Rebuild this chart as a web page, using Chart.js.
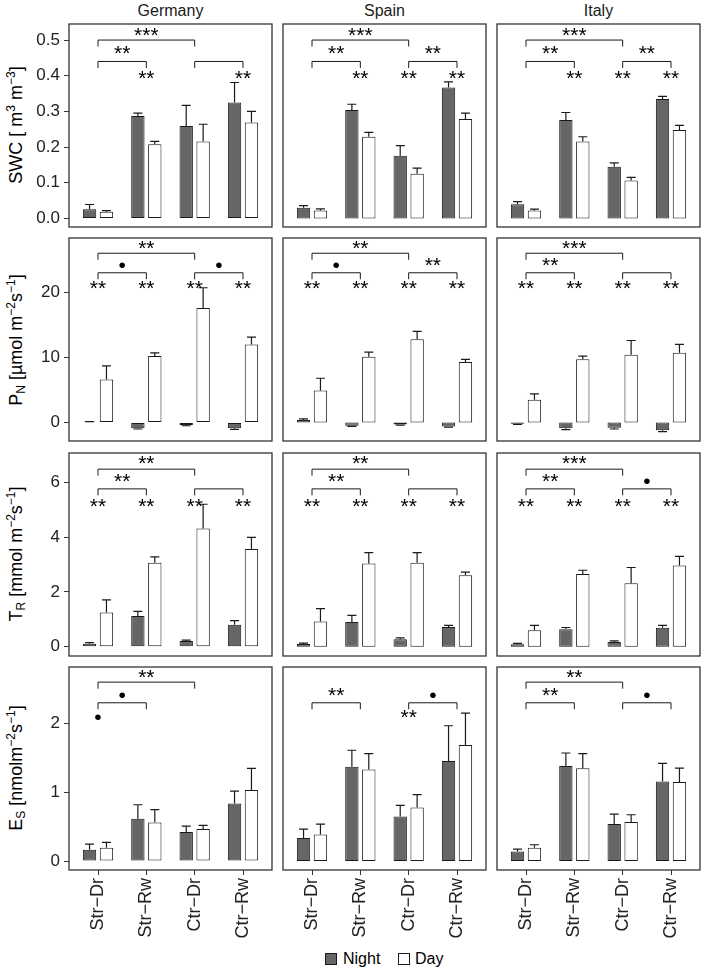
<!DOCTYPE html>
<html>
<head>
<meta charset="utf-8">
<script src="https://cdn.jsdelivr.net/npm/chart.js@4.4.0/dist/chart.umd.min.js"></script>
<style>
  body { margin: 0; background: #fff; font-family: "Liberation Sans", Arial, sans-serif; }
  #wrap { position: relative; width: 704px; height: 970px; overflow: hidden; }
  canvas { position: absolute; }
  .strip { position: absolute; top: 0; width: 203px; height: 21px; line-height: 21px; text-align: center; font-size: 16px; color: #1a1a1a; }
  .ytitle { position: absolute; left: 16px; white-space: nowrap; font-size: 18px; color: #000; transform: translate(-50%, -50%) rotate(-90deg); }
  .ytitle sup { font-size: 12px; vertical-align: 7px; line-height: 0; }
  .ytitle sub { font-size: 12px; vertical-align: -3px; line-height: 0; }
  .key { position: absolute; top: 953px; width: 12px; height: 12px; box-sizing: border-box; border: 1px solid #1a1a1a; }
  .ktext { position: absolute; top: 949px; font-size: 16px; line-height: 19px; color: #000; }
</style>
</head>
<body>
<div id="wrap">
  <div class="strip" style="left:69px">Germany</div>
  <div class="strip" style="left:283px">Spain</div>
  <div class="strip" style="left:497px">Italy</div>

  <div class="ytitle" style="top:125px">SWC [ m<sup>3</sup> m<sup>−3</sup>]</div>
  <div class="ytitle" style="top:340px">P<sub>N</sub> [µmol m<sup>−2</sup>s<sup>−1</sup>]</div>
  <div class="ytitle" style="top:554px">T<sub>R</sub> [mmol m<sup>−2</sup>s<sup>−1</sup>]</div>
  <div class="ytitle" style="top:768px">E<sub>S</sub> [nmolm<sup>−2</sup>s<sup>−1</sup>]</div>

  <div class="key" style="left:325px;background:#666"></div>
  <div class="ktext" style="left:343px">Night</div>
  <div class="key" style="left:398px;background:#fff"></div>
  <div class="ktext" style="left:415px">Day</div>
</div>

<script>
const categories = ['Str−Dr', 'Str−Rw', 'Ctr−Dr', 'Ctr−Rw'];
const countries = ['Germany', 'Spain', 'Italy'];

// one inner array per country (Germany, Spain, Italy), values per category
const swcNight   = [[0.026, 0.287, 0.259, 0.325], [0.030, 0.304, 0.176, 0.367], [0.040, 0.276, 0.145, 0.335]];
const swcNightSE = [[0.013, 0.008, 0.058, 0.056], [0.006, 0.016, 0.028, 0.016], [0.007, 0.021, 0.011, 0.007]];
const swcDay     = [[0.019, 0.208, 0.216, 0.269], [0.022, 0.229, 0.125, 0.279], [0.022, 0.216, 0.106, 0.248]];
const swcDaySE   = [[0.003, 0.008, 0.048, 0.031], [0.005, 0.012, 0.016, 0.016], [0.004, 0.013, 0.009, 0.013]];

const pnNight   = [[0.1, -0.9, -0.4, -0.9], [0.4, -0.5, -0.3, -0.6], [-0.2, -0.9, -0.8, -1.2]];
const pnNightSE = [[0.05, 0.1, 0.1, 0.15], [0.15, 0.1, 0.1, 0.1], [0.1, 0.2, 0.2, 0.2]];
const pnDay     = [[6.6, 10.2, 17.6, 12.0], [4.9, 10.1, 12.8, 9.3], [3.5, 9.7, 10.4, 10.7]];
const pnDaySE   = [[2.1, 0.5, 3.1, 1.1], [1.9, 0.7, 1.2, 0.4], [0.9, 0.5, 2.2, 1.3]];

const trNight   = [[0.11, 1.12, 0.21, 0.80], [0.10, 0.90, 0.27, 0.72], [0.09, 0.64, 0.17, 0.69]];
const trNightSE = [[0.04, 0.17, 0.03, 0.15], [0.03, 0.24, 0.05, 0.06], [0.03, 0.06, 0.04, 0.09]];
const trDay     = [[1.25, 3.06, 4.31, 3.57], [0.92, 3.04, 3.06, 2.61], [0.60, 2.65, 2.32, 2.96]];
const trDaySE   = [[0.46, 0.22, 0.89, 0.42], [0.47, 0.39, 0.37, 0.11], [0.18, 0.14, 0.57, 0.34]];

const esNight   = [[0.165, 0.615, 0.421, 0.838], [0.334, 1.37, 0.649, 1.453], [0.14, 1.38, 0.538, 1.157]];
const esNightSE = [[0.082, 0.203, 0.087, 0.179], [0.131, 0.24, 0.16, 0.513], [0.034, 0.19, 0.145, 0.262]];
const esDay     = [[0.194, 0.562, 0.465, 1.031], [0.387, 1.33, 0.780, 1.685], [0.194, 1.35, 0.567, 1.148]];
const esDaySE   = [[0.077, 0.184, 0.053, 0.315], [0.151, 0.23, 0.184, 0.465], [0.043, 0.21, 0.106, 0.203]];

// tick labels
const swcTicks = [0, 0.1, 0.2, 0.3, 0.4, 0.5];
const pnTicks = [0, 10, 20];
const trTicks = [0, 2, 4, 6];
const esTicks = [0, 1, 2];

// significance: top = Str-Dr vs Ctr-Dr, left = Str-Dr vs Str-Rw, right = Ctr-Dr vs Ctr-Rw
// null = no bracket, '' = bracket without label
const swcSigTop = ['***', '***', '***'];
const swcSigLeft = ['**', '**', '**'];
const swcSigRight = ['', '**', '**'];
const swcStars = [['', '**', '', '**'], ['', '**', '**', '**'], ['', '**', '**', '**']];

const pnSigTop = ['**', '**', '***'];
const pnSigLeft = ['•', '•', '**'];
const pnSigRight = ['•', '**', ''];
const pnStars = [['**', '**', '**', '**'], ['**', '**', '**', '**'], ['**', '**', '**', '**']];

const trSigTop = ['**', '**', '***'];
const trSigLeft = ['**', '**', '**'];
const trSigRight = ['', '', '•'];
const trStars = [['**', '**', '**', '**'], ['**', '**', '**', '**'], ['**', '**', '**', '**']];

const esSigTop = ['**', null, '**'];
const esSigLeft = ['•', '**', '**'];
const esSigRight = [null, '•', '•'];
const esStars = [['•', '', '', ''], ['', '', '**', ''], ['', '', '', '']];

const rows = [
    { night: swcNight, nightSE: swcNightSE, day: swcDay, daySE: swcDaySE, ticks: swcTicks, min: -0.024, max: 0.545, digits: 1,
      sigTop: swcSigTop, sigLeft: swcSigLeft, sigRight: swcSigRight, stars: swcStars,
      levels: { top: 0.5, topLabel: 0.510, mid: 0.44, midLabel: 0.459, stars: 0.389 } },
    { night: pnNight, nightSE: pnNightSE, day: pnDay, daySE: pnDaySE, ticks: pnTicks, min: -2.84, max: 28.34, digits: 0,
      sigTop: pnSigTop, sigLeft: pnSigLeft, sigRight: pnSigRight, stars: pnStars,
      levels: { top: 26.0, topLabel: 26.6, mid: 23.0, midLabel: 24.0, stars: 20.5 } },
    { night: trNight, nightSE: trNightSE, day: trDay, daySE: trDaySE, ticks: trTicks, min: -0.34, max: 7.07, digits: 0,
      sigTop: trSigTop, sigLeft: trSigLeft, sigRight: trSigRight, stars: trStars,
      levels: { top: 6.48, topLabel: 6.67, mid: 5.76, midLabel: 6.0, stars: 5.10 } },
    { night: esNight, nightSE: esNightSE, day: esDay, daySE: esDaySE, ticks: esTicks, min: -0.13, max: 2.82, digits: 0,
      sigTop: esSigTop, sigLeft: esSigLeft, sigRight: esSigRight, stars: esStars,
      levels: { top: 2.60, topLabel: 2.66, mid: 2.30, midLabel: 2.39, stars: 2.07 } }
];

const panelX = [69, 283, 497];
const panelY = [24, 238, 453, 667];
const panelW = 203;
const panelH = 203;
const yAxisW = 69;
const xAxisH = 72;
const ink = '#1a1a1a';

Chart.defaults.font.family = '"Liberation Sans", Arial, sans-serif';

const errorBars = {
    id: 'errorBars',
    afterDatasetsDraw(chart) {
        const ctx = chart.ctx;
        const yScale = chart.scales.y;
        ctx.save();
        ctx.strokeStyle = ink;
        ctx.lineWidth = 1.2;
        chart.data.datasets.forEach((ds, di) => {
            chart.getDatasetMeta(di).data.forEach((bar, i) => {
                const v = ds.data[i].y;
                const end = v >= 0 ? v + ds.se[i] : v - ds.se[i];
                const y0 = yScale.getPixelForValue(v);
                const y1 = yScale.getPixelForValue(end);
                ctx.beginPath();
                ctx.moveTo(bar.x, y0);
                ctx.lineTo(bar.x, y1);
                ctx.moveTo(bar.x - 4.5, y1);
                ctx.lineTo(bar.x + 4.5, y1);
                ctx.stroke();
            });
        });
        ctx.restore();
    }
};

const signif = {
    id: 'signif',
    afterDatasetsDraw(chart, args, opts) {
        const ctx = chart.ctx;
        const xs = chart.scales.x, ys = chart.scales.y;
        const lv = opts.levels;
        ctx.save();
        ctx.strokeStyle = ink;
        ctx.fillStyle = '#000';
        ctx.lineWidth = 1;
        ctx.font = '21px "Liberation Sans", Arial, sans-serif';
        ctx.textAlign = 'center';
        ctx.textBaseline = 'middle';

        const bracket = (a, b, level, labelLevel, label) => {
            if (label === null || label === undefined) return;
            const x1 = xs.getPixelForValue(a), x2 = xs.getPixelForValue(b);
            const y = ys.getPixelForValue(level);
            ctx.beginPath();
            ctx.moveTo(x1, y + 6.5);
            ctx.lineTo(x1, y);
            ctx.lineTo(x2, y);
            ctx.lineTo(x2, y + 6.5);
            ctx.stroke();
            if (label) ctx.fillText(label, (x1 + x2) / 2, ys.getPixelForValue(labelLevel));
        };
        bracket(1, 3, lv.top, lv.topLabel, opts.top);
        bracket(1, 2, lv.mid, lv.midLabel, opts.left);
        bracket(3, 4, lv.mid, lv.midLabel, opts.right);
        opts.stars.forEach((s, i) => {
            if (s) ctx.fillText(s, xs.getPixelForValue(i + 1), ys.getPixelForValue(lv.stars));
        });
        ctx.restore();
    }
};

const panelBorder = {
    id: 'panelBorder',
    afterDraw(chart) {
        const a = chart.chartArea;
        const ctx = chart.ctx;
        ctx.save();
        ctx.strokeStyle = '#333';
        ctx.lineWidth = 1.3;
        ctx.strokeRect(a.left, a.top, a.right - a.left, a.bottom - a.top);
        ctx.restore();
    }
};

function noPadding(scale) {
    scale.paddingTop = 0;
    scale.paddingBottom = 0;
    scale.paddingLeft = 0;
    scale.paddingRight = 0;
}

function makePanel(r, c) {
    const row = rows[r];
    const left = c === 0, bottom = r === rows.length - 1;
    const padL = left ? yAxisW : 1;
    const padB = bottom ? xAxisH : 1;
    const w = panelW + padL + 1, h = panelH + 1 + padB;

    const canvas = document.createElement('canvas');
    canvas.width = w;
    canvas.height = h;
    canvas.style.left = (panelX[c] - padL) + 'px';
    canvas.style.top = (panelY[r] - 1) + 'px';
    canvas.style.width = w + 'px';
    canvas.style.height = h + 'px';
    document.getElementById('wrap').appendChild(canvas);

    new Chart(canvas, {
        type: 'bar',
        data: {
            datasets: [{
                label: 'Night',
                data: row.night[c].map((v, i) => ({ x: i + 1, y: v })),
                se: row.nightSE[c],
                backgroundColor: '#666666',
                borderColor: ink,
                borderWidth: 1,
                borderSkipped: false
            }, {
                label: 'Day',
                data: row.day[c].map((v, i) => ({ x: i + 1, y: v })),
                se: row.daySE[c],
                backgroundColor: '#ffffff',
                borderColor: ink,
                borderWidth: 1,
                borderSkipped: false
            }]
        },
        options: {
            responsive: false,
            animation: false,
            devicePixelRatio: 1,
            events: [],
            categoryPercentage: 0.7,
            barPercentage: 0.79,
            layout: { padding: { left: left ? 0 : 1, top: 1, right: 1, bottom: bottom ? 0 : 1 } },
            plugins: {
                legend: { display: false },
                tooltip: { enabled: false },
                signif: {
                    levels: row.levels,
                    top: row.sigTop[c],
                    left: row.sigLeft[c],
                    right: row.sigRight[c],
                    stars: row.stars[c]
                }
            },
            scales: {
                x: {
                    type: 'linear',
                    display: bottom,
                    offset: false,
                    min: 0.4,
                    max: 4.6,
                    afterBuildTicks: (s) => { s.ticks = categories.map((_, i) => ({ value: i + 1 })); },
                    afterFit: (s) => { if (bottom) s.height = xAxisH; noPadding(s); },
                    grid: { display: true, offset: false, drawOnChartArea: false, drawTicks: true, tickLength: 5, color: '#333', lineWidth: 1 },
                    border: { display: false },
                    ticks: {
                        autoSkip: false,
                        minRotation: 90,
                        maxRotation: 90,
                        padding: 3,
                        color: '#222',
                        font: { size: 18 },
                        callback: (v) => categories[Math.round(v) - 1]
                    }
                },
                y: {
                    display: left,
                    min: row.min,
                    max: row.max,
                    afterBuildTicks: (s) => { s.ticks = row.ticks.map(v => ({ value: v })); },
                    afterFit: (s) => { if (left) s.width = yAxisW; noPadding(s); },
                    grid: { display: true, drawOnChartArea: false, drawTicks: true, tickLength: 5, color: '#333', lineWidth: 1 },
                    border: { display: false },
                    ticks: {
                        padding: 4,
                        color: '#222',
                        font: { size: 17 },
                        callback: (v) => v.toFixed(row.digits)
                    }
                }
            }
        },
        plugins: [errorBars, signif, panelBorder]
    });
}

rows.forEach((_, r) => countries.forEach((_, c) => makePanel(r, c)));
</script>
</body>
</html>
